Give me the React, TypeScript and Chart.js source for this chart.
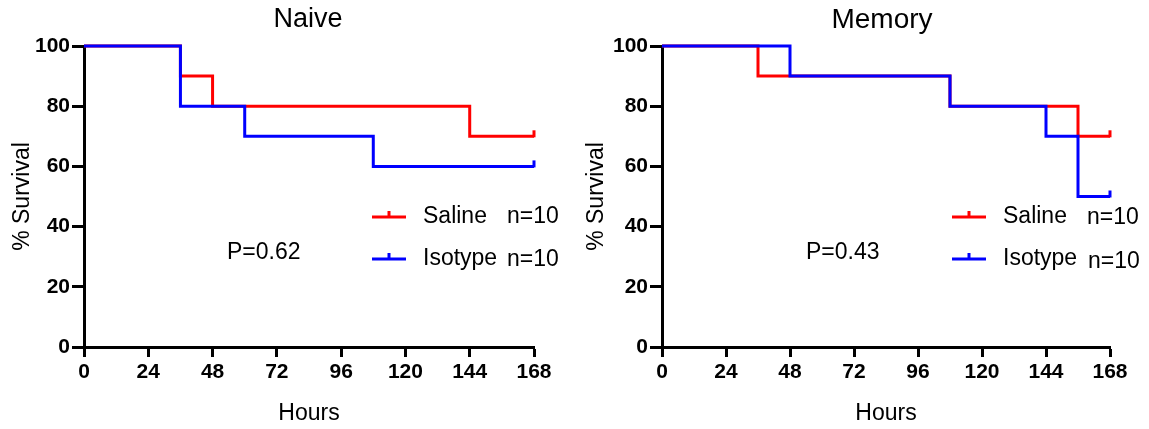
import React, { useEffect, useRef } from "react";
import { Chart, registerables } from "chart.js";

Chart.register(...registerables);

const FONT = "'Liberation Sans', Arial, sans-serif";

// ---- data ----
const hourTicks = [0, 24, 48, 72, 96, 120, 144, 168];
const survivalTicks = [0, 20, 40, 60, 80, 100];

const naiveSalineTimes = [0, 36, 48, 144, 168];
const naiveSalineSurvival = [100, 90, 80, 70, 70];
const naiveIsotypeTimes = [0, 36, 60, 108, 168];
const naiveIsotypeSurvival = [100, 80, 70, 60, 60];

const memorySalineTimes = [0, 36, 108, 156, 168];
const memorySalineSurvival = [100, 90, 80, 70, 70];
const memoryIsotypeTimes = [0, 48, 108, 144, 156, 168];
const memoryIsotypeSurvival = [100, 90, 80, 70, 50, 50];

const seriesLabels = ["Saline", "Isotype"];
const seriesN = ["n=10", "n=10"];
const pValues = ["P=0.62", "P=0.43"];
const panelTitles = ["Naive", "Memory"];

type PanelCfg = {
  title: string;
  pText: string;
  saline: { t: number[]; s: number[] };
  isotype: { t: number[]; s: number[] };
  canvasW: number;
  yAxisW: number;
  rightPad: number;
  titleX: number;
  titleSize: number;
  pX: number;
  legendLineX: number;
  legendTextX: number;
  legendNX: number[];
  legendNY: number[];
};

const panels: PanelCfg[] = [
  {
    title: panelTitles[0],
    pText: pValues[0],
    saline: { t: naiveSalineTimes, s: naiveSalineSurvival },
    isotype: { t: naiveIsotypeTimes, s: naiveIsotypeSurvival },
    canvasW: 574,
    yAxisW: 84,
    rightPad: 40,
    titleX: 308,
    titleSize: 27,
    pX: 227,
    legendLineX: 372,
    legendTextX: 423,
    legendNX: [507, 507],
    legendNY: [217, 260],
  },
  {
    title: panelTitles[1],
    pText: pValues[1],
    saline: { t: memorySalineTimes, s: memorySalineSurvival },
    isotype: { t: memoryIsotypeTimes, s: memoryIsotypeSurvival },
    canvasW: 575,
    yAxisW: 88,
    rightPad: 39,
    titleX: 308,
    titleSize: 28,
    pX: 232,
    legendLineX: 378,
    legendTextX: 429,
    legendNX: [513, 514],
    legendNY: [218, 262],
  },
];

function Panel({ cfg }: { cfg: PanelCfg }) {
  const ref = useRef<HTMLCanvasElement | null>(null);
  useEffect(() => {
    if (!ref.current) return;
    const red = "#ff0000";
    const blue = "#0000ff";
    const toPts = (t: number[], s: number[]) => t.map((x, i) => ({ x, y: s[i] }));

    const overlay = {
      id: "overlay",
      afterDatasetsDraw(chart: any) {
        const ctx = chart.ctx;
        ctx.save();
        // censor ticks at last point
        chart.data.datasets.forEach((ds: any, i: number) => {
          const meta = chart.getDatasetMeta(i);
          const last = meta.data[meta.data.length - 1];
          ctx.strokeStyle = ds.borderColor;
          ctx.lineWidth = 3;
          ctx.beginPath();
          ctx.moveTo(last.x, last.y + 1);
          ctx.lineTo(last.x, last.y - 6);
          ctx.stroke();
        });
        // title
        ctx.fillStyle = "#000";
        ctx.textBaseline = "middle";
        ctx.textAlign = "center";
        ctx.font = `${cfg.titleSize}px ${FONT}`;
        ctx.fillText(cfg.title, cfg.titleX, 20);
        // p value
        ctx.textAlign = "left";
        ctx.font = `23px ${FONT}`;
        ctx.fillText(cfg.pText, cfg.pX, 253);
        // legend
        const colors = [red, blue];
        const ys = [217, 259];
        for (let i = 0; i < 2; i++) {
          const y = ys[i];
          ctx.strokeStyle = colors[i];
          ctx.lineWidth = 3;
          ctx.beginPath();
          ctx.moveTo(cfg.legendLineX, y);
          ctx.lineTo(cfg.legendLineX + 34, y);
          ctx.stroke();
          ctx.beginPath();
          ctx.moveTo(cfg.legendLineX + 17, y);
          ctx.lineTo(cfg.legendLineX + 17, y - 6);
          ctx.stroke();
          ctx.fillStyle = "#000";
          ctx.fillText(seriesLabels[i], cfg.legendTextX, y);
          ctx.fillText(seriesN[i], cfg.legendNX[i], cfg.legendNY[i]);
        }
        ctx.restore();
      },
    };

    const chart = new Chart(ref.current, {
      type: "line",
      data: {
        datasets: [
          {
            label: seriesLabels[0],
            data: toPts(cfg.saline.t, cfg.saline.s),
            borderColor: red,
            backgroundColor: red,
            borderWidth: 3,
            stepped: "before",
            pointRadius: 0,
            fill: false,
            clip: false as any,
            order: 1,
          },
          {
            label: seriesLabels[1],
            data: toPts(cfg.isotype.t, cfg.isotype.s),
            borderColor: blue,
            backgroundColor: blue,
            borderWidth: 3,
            stepped: "before",
            pointRadius: 0,
            fill: false,
            clip: false as any,
            order: 0,
          },
        ],
      },
      options: {
        animation: false,
        responsive: true,
        maintainAspectRatio: false,
        devicePixelRatio: 1,
        layout: { padding: { left: 0, right: cfg.rightPad, top: 46, bottom: 0 } },
        plugins: { legend: { display: false }, tooltip: { enabled: false }, title: { display: false } },
        events: [],
        scales: {
          x: {
            type: "linear",
            min: hourTicks[0],
            max: hourTicks[hourTicks.length - 1],
            afterBuildTicks: (s: any) => {
              s.ticks = hourTicks.map((v) => ({ value: v }));
            },
            afterFit: (s: any) => {
              s.height = 82;
            },
            ticks: {
              color: "#000",
              font: { family: FONT, size: 21, weight: "bold" },
              padding: 3,
              maxRotation: 0,
              autoSkip: false,
            },
            grid: {
              drawOnChartArea: false,
              drawTicks: true,
              tickLength: 10,
              tickWidth: 3,
              tickColor: "#000",
            },
            border: { display: true, color: "#000", width: 3 },
            title: {
              display: true,
              text: "Hours",
              color: "#000",
              font: { family: FONT, size: 23 },
              padding: { top: 0, bottom: 2 },
            },
          },
          y: {
            type: "linear",
            min: survivalTicks[0],
            max: survivalTicks[survivalTicks.length - 1],
            afterBuildTicks: (s: any) => {
              s.ticks = survivalTicks.map((v) => ({ value: v }));
            },
            afterFit: (s: any) => {
              s.width = cfg.yAxisW;
            },
            ticks: {
              color: "#000",
              font: { family: FONT, size: 21, weight: "bold" },
              padding: 2,
            },
            grid: {
              drawOnChartArea: false,
              drawTicks: true,
              tickLength: 12,
              tickWidth: 3,
              tickColor: "#000",
            },
            border: { display: true, color: "#000", width: 3 },
            title: {
              display: true,
              text: "% Survival",
              color: "#000",
              font: { family: FONT, size: 23 },
              padding: { top: 9, bottom: 0 },
            },
          },
        },
      } as any,
      plugins: [overlay],
    });
    return () => chart.destroy();
  }, [cfg]);

  return (
    <div style={{ position: "relative", width: cfg.canvasW, height: 429 }}>
      <canvas ref={ref} />
    </div>
  );
}

export default function App() {
  return (
    <div
      style={{
        position: "absolute",
        left: 0,
        top: 0,
        width: 1149,
        height: 429,
        display: "flex",
        background: "#fff",
      }}
    >
      {panels.map((p, i) => (
        <Panel key={i} cfg={p} />
      ))}
    </div>
  );
}
